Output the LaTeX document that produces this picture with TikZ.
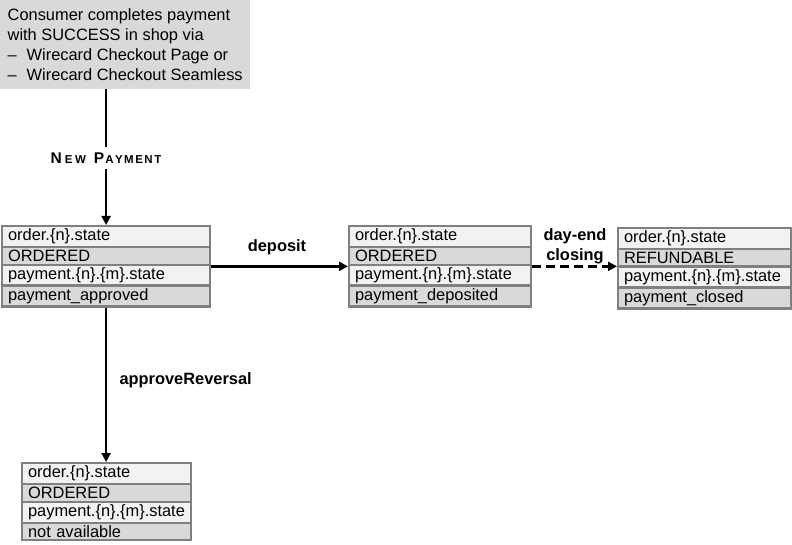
\documentclass[tikz,border=0pt]{standalone}
\usepackage{fontspec}
\setmainfont{Liberation Sans}
\usetikzlibrary{shapes.multipart,arrows.meta}
\definecolor{rowlight}{HTML}{F2F2F2}
\definecolor{rowdark}{HTML}{D9D9D9}
\definecolor{boxline}{HTML}{808080}
\tikzset{
  statebox/.style={rectangle split, rectangle split parts=4, draw=boxline, line width=2.2pt,
    rectangle split part fill={rowlight,rowdark,rowlight,rowdark},
    inner xsep=6pt, inner ysep=1.75pt, text height=11.5pt, text depth=4pt,
    align=left, anchor=north west, font=\fontsize{16.4}{20}\selectfont},
  flow/.style={line width=2.6pt, -{Triangle[length=9pt,width=9pt]}},
  lbl/.style={font=\fontsize{16.4}{20}\selectfont\bfseries, align=center}
}
\begin{document}
\begin{tikzpicture}[x=1pt,y=-1pt]
\useasboundingbox (0,0) rectangle (792,545);
\node[fill=rowdark, anchor=north west, minimum width=250pt, minimum height=89pt,
  inner xsep=7pt, inner ysep=0pt, align=left,
  font=\fontsize{16.4}{20}\selectfont] (top) at (0,0)
  {Consumer completes payment\\with SUCCESS in shop via\\
   \makebox[19pt][l]{–}Wirecard Checkout Page or\\
   \makebox[19pt][l]{–}Wirecard Checkout Seamless};
\node[statebox, text width=196pt] (b1) at (1,225)
  {order.\{n\}.state \nodepart{two} ORDERED \nodepart{three} payment.\{n\}.\{m\}.state \nodepart{four} payment\_approved};
\node[statebox, text width=170pt] (b2) at (348,225)
  {order.\{n\}.state \nodepart{two} ORDERED \nodepart{three} payment.\{n\}.\{m\}.state \nodepart{four} payment\_deposited};
\node[statebox, text width=161pt] (b3) at (617,227)
  {order.\{n\}.state \nodepart{two} REFUNDABLE \nodepart{three} payment.\{n\}.\{m\}.state \nodepart{four} payment\_closed};
\node[statebox, text width=157pt] (b4) at (21,462)
  {order.\{n\}.state \nodepart{two} ORDERED \nodepart{three} payment.\{n\}.\{m\}.state \nodepart{four} not available};
\draw[flow] (top.south -| b1.north) -- (b1.north);
\draw[flow] (b1.east) -- (b2.west);
\draw[flow, dash pattern=on 9pt off 5pt] (b2.east) -- (b2.east -| b3.west);
\draw[flow] (b1.south) -- (b1.south |- b4.north);
\node[font=\bfseries, fill=white, inner xsep=2pt, inner ysep=6pt] (np) at (106,158)
  {\fontsize{15.5}{18}\selectfont N\hspace{3pt}{\fontsize{11.5}{14}\selectfont E\hspace{2.5pt}W}\hspace{8pt}P\hspace{1pt}{\fontsize{11.5}{14}\selectfont A\hspace{1.5pt}Y\hspace{1.5pt}M\hspace{1.5pt}E\hspace{1.5pt}N\hspace{1.5pt}T}};
\node[lbl] (dep) at (277,247) {deposit};
\node[lbl] (dec) at (575,246) {day-end\\closing};
\node[lbl, anchor=west] (rev) at (116,380) {approveReversal};
\end{tikzpicture}
\end{document}
